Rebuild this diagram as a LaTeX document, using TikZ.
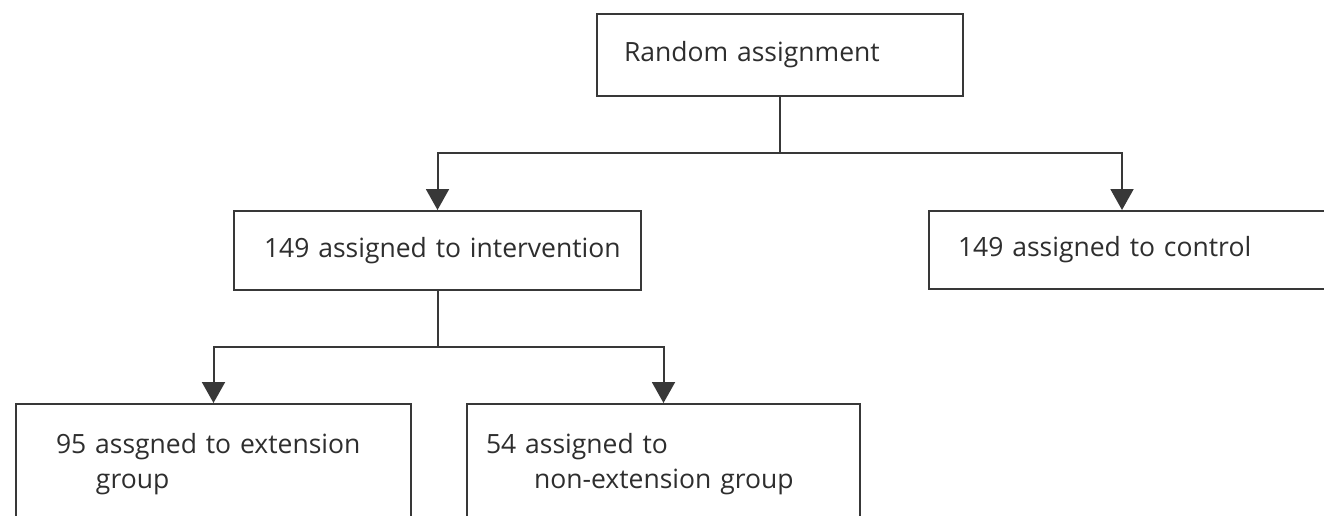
\documentclass[tikz,border=0pt]{standalone}
\usepackage{fontspec}
\setmainfont{Open Sans}[WordSpace=0.85]
\usetikzlibrary{arrows.meta}
\definecolor{ln}{HTML}{383838}
\definecolor{tx}{HTML}{2E2E2E}
\begin{document}
\begin{tikzpicture}[x=1pt,y=-1pt,
  box/.style={draw=ln, line width=2pt, anchor=north west, align=left,
    inner xsep=0pt, inner ysep=0pt, text=tx,
    font=\fontsize{26.5}{35}\selectfont},
  arr/.style={draw=ln, line width=2pt, -{Triangle[width=23pt,length=21pt]}},
  conn/.style={draw=ln, line width=2pt}]
\clip (0,0) rectangle (1324,515);
\fill[white] (0,0) rectangle (1324,515);

\node[box, text width=366pt, minimum height=82pt] (ra) at (596,13)
  {\hspace*{27pt}Random assignment};
\node[box, text width=407pt, minimum height=79pt] (int) at (233,210)
  {\hspace*{30pt}149 assigned to intervention};
\node[box, text width=440pt, minimum height=78pt] (ctl) at (928,210)
  {\hspace*{29pt}149 assigned to control};
\node[box, text width=395pt, minimum height=121pt] (ext) at (15,403)
  {\hspace*{40pt}95 assgned to extension\\\hspace*{80pt}group};
\node[box, text width=393pt, minimum height=121pt] (non) at (466,403)
  {\hspace*{19pt}54 assigned to\\\hspace*{67pt}non-extension group};

\coordinate (j1) at (ra.south |- 0,153);
\coordinate (j2) at (int.south |- 0,347);

\draw[conn] (ra.south) -- (j1);
\draw[arr] (j1) -| (int.north);
\draw[arr] (j1) -| ([xshift=194pt]ctl.north west);
\draw[conn] (int.south) -- (j2);
\draw[arr] (j2) -| (ext.north);
\draw[arr] (j2) -| (non.north);
\end{tikzpicture}
\end{document}
